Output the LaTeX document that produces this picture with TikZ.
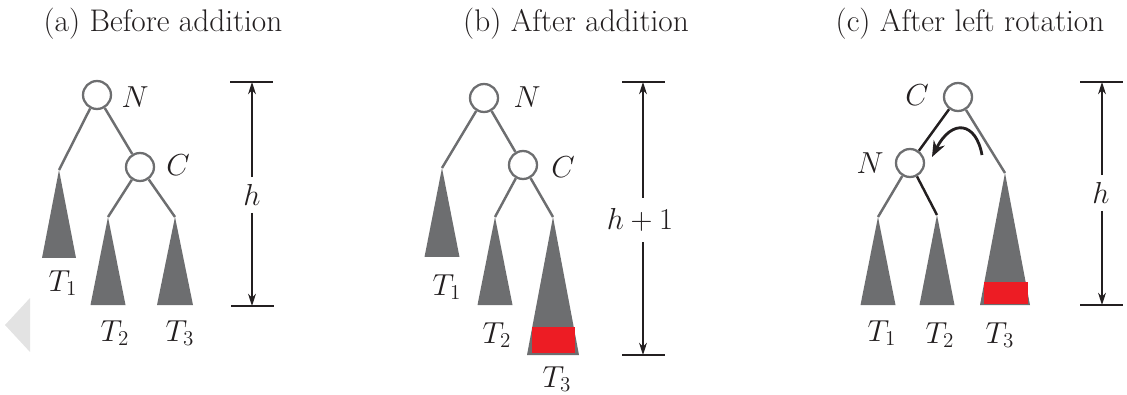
\documentclass[tikz,border=0pt]{standalone}
\usetikzlibrary{arrows.meta,positioning}
\definecolor{treegray}{RGB}{109,110,112}
\definecolor{addred}{RGB}{237,28,36}
\definecolor{inkdark}{RGB}{35,31,32}

\begin{document}
\begin{tikzpicture}[
    x=0.02cm, y=-0.02cm,
    vert/.style={circle, draw=treegray, fill=white, line width=1.3pt, minimum size=0.56cm, inner sep=0pt},
    link/.style={draw=treegray, line width=1.4pt},
    newlink/.style={draw=inkdark, line width=1.4pt},
    subtree/.style={fill=treegray},
    lbl/.style={font=\fontsize{16}{16}\selectfont, text=inkdark, inner sep=1pt},
    tlbl/.style={font=\fontsize{17}{17}\selectfont, text=inkdark, inner sep=1pt},
    paneltitle/.style={font=\fontsize{17.8}{20}\selectfont, text=inkdark, anchor=base},
    barend/.style={draw=inkdark, line width=0.9pt},
    hbar/.style={draw=inkdark, line width=0.7pt, -{Stealth[length=7pt,width=4.5pt]}},
    >=Stealth
  ]
  \useasboundingbox (0,0) rectangle (1127,395);
  \fill[gray!22] (5,325) -- (30,298) -- (30,352) -- cycle;

  % (a) before addition
  \node[paneltitle] (tta) at (163,32) {(a) Before addition};
  \node[vert] (Na) at (97,95) {};
  \node[vert] (Ca) at (140,167) {};
  \node[lbl] (lNa) at (135,97) {$N$};
  \node[lbl] (lCa) at (178,165) {$C$};
  \coordinate (t1a) at (59,170);
  \coordinate (t2a) at (108,217);
  \coordinate (t3a) at (175,217);
  \draw[link] (Na) -- (t1a);
  \draw[link] (Na) -- (Ca);
  \draw[link] (Ca) -- (t2a);
  \draw[link] (Ca) -- (t3a);
  \fill[subtree] (t1a) -- ++(-17,88) -- ++(34,0) -- cycle;
  \fill[subtree] (t2a) -- ++(-17.5,88) -- ++(35,0) -- cycle;
  \fill[subtree] (t3a) -- ++(-18,88) -- ++(36,0) -- cycle;
  \node[tlbl] (T1a) at (63,283) {$T_1$};
  \node[tlbl] (T2a) at (115,333) {$T_2$};
  \node[tlbl] (T3a) at (180,333) {$T_3$};
  \coordinate (topa) at (252,82);
  \coordinate (bota) at (252,306);
  \draw[barend] (230,82) -- (273,82);
  \draw[barend] (231,306) -- (274,306);
  \node[lbl, inner sep=4pt] (ha) at (252,195) {$h$};
  \draw[hbar] (ha) -- (topa);
  \draw[hbar] (ha) -- (bota);

  % (b) after addition
  \node[paneltitle] (ttb) at (576,32) {(b) After addition};
  \node[vert] (Nb) at (484,98) {};
  \node[vert] (Cb) at (523,165) {};
  \node[lbl] (lNb) at (527,97) {$N$};
  \node[lbl] (lCb) at (563,167) {$C$};
  \coordinate (t1b) at (442,168);
  \coordinate (t2b) at (495,217);
  \coordinate (t3b) at (553,217);
  \draw[link] (Nb) -- (t1b);
  \draw[link] (Nb) -- (Cb);
  \draw[link] (Cb) -- (t2b);
  \draw[link] (Cb) -- (t3b);
  \fill[subtree] (t1b) -- ++(-17.5,89) -- ++(35,0) -- cycle;
  \fill[subtree] (t2b) -- ++(-17.5,88) -- ++(35,0) -- cycle;
  \fill[subtree] (t3b) -- ++(-26,138) -- ++(52,0) -- cycle;
  \fill[addred] (532,327) rectangle (575,353);
  \node[tlbl] (T1b) at (447,287) {$T_1$};
  \node[tlbl] (T2b) at (497,335) {$T_2$};
  \node[tlbl] (T3b) at (557,379) {$T_3$};
  \coordinate (topb) at (643,82);
  \coordinate (botb) at (643,355);
  \draw[barend] (622,82) -- (665,82);
  \draw[barend] (622,355) -- (665,355);
  \node[lbl, inner sep=6pt] (hb) at (640,220) {$h+1$};
  \draw[hbar] (hb.north -| topb) -- (topb);
  \draw[hbar] (hb.south -| botb) -- (botb);

  % (c) after left rotation
  \node[paneltitle] (ttc) at (970,32) {(c) After left rotation};
  \node[vert] (Cc) at (958,97) {};
  \node[vert] (Nc) at (910,163) {};
  \node[lbl] (lCc) at (917,95) {$C$};
  \node[lbl] (lNc) at (870,163) {$N$};
  \coordinate (t1c) at (878,217);
  \coordinate (t2c) at (937,215);
  \coordinate (t3c) at (1005,173);
  \draw[newlink] (Cc) -- (Nc);
  \draw[link] (Cc) -- (t3c);
  \draw[link] (Nc) -- (t1c);
  \draw[newlink] (Nc) -- (t2c);
  \fill[subtree] (t1c) -- ++(-17.5,88) -- ++(35,0) -- cycle;
  \fill[subtree] (t2c) -- ++(-17.5,90) -- ++(35,0) -- cycle;
  \fill[subtree] (t3c) -- ++(-25,132) -- ++(50,0) -- cycle;
  \fill[addred] (984,282) rectangle (1028,304);
  \coordinate (rots) at (982,155);
  \coordinate (rote) at (932,157);
  \draw[line width=1.6pt, inkdark, -{Stealth[length=9pt,width=7pt]}] (rots) .. controls (976,122) and (952,118) .. (rote);
  \node[tlbl] (T1c) at (882,333) {$T_1$};
  \node[tlbl] (T2c) at (940,335) {$T_2$};
  \node[tlbl] (T3c) at (1000,335) {$T_3$};
  \coordinate (topc) at (1102,82);
  \coordinate (botc) at (1102,305);
  \draw[barend] (1080,82) -- (1123,82);
  \draw[barend] (1080,305) -- (1123,305);
  \node[lbl, inner sep=4pt] (hc) at (1101,193) {$h$};
  \draw[hbar] (hc.north -| topc) -- (topc);
  \draw[hbar] (hc.south -| botc) -- (botc);
\end{tikzpicture}
\end{document}
